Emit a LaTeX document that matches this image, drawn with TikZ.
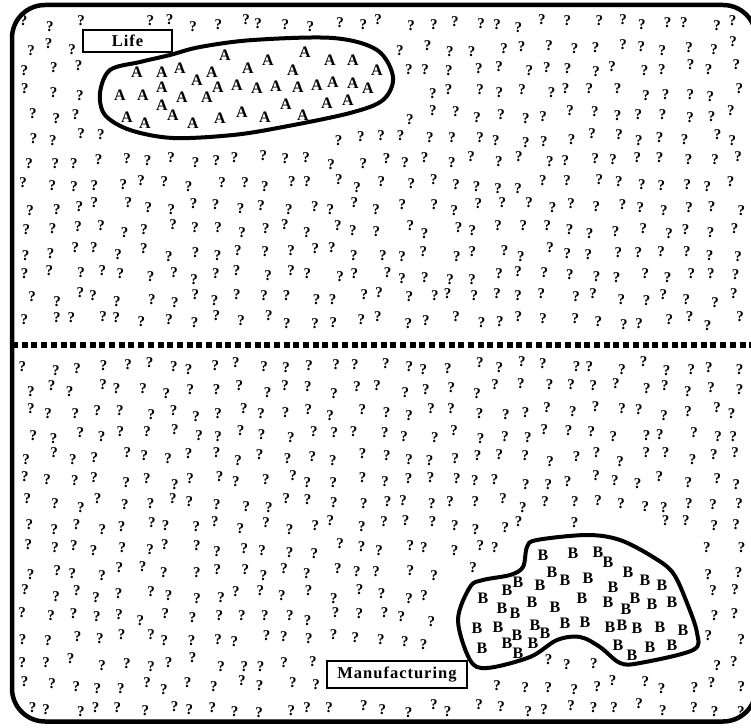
\documentclass[tikz,border=0pt]{standalone}
\usepackage{fontspec}
\setmainfont{Liberation Serif}
\begin{document}
\begin{tikzpicture}[
    x=1pt,
    y=-1pt,
    qmark/.style={font=\bfseries\fontsize{15}{15}\selectfont, inner sep=0pt},
    letter/.style={font=\bfseries\fontsize{16}{16}\selectfont, inner sep=0pt},
    tag/.style={draw, line width=2.5pt, inner sep=0pt,
      font=\bfseries\fontsize{16.5}{16.5}\selectfont\addfontfeature{LetterSpace=6}},
    border/.style={line width=4pt},
  ]
  \useasboundingbox (0,0) rectangle (751,727);
  % frame and divider
  \draw[line width=4.5pt, rounded corners=33pt] (12,5) rectangle (756,721.5);
  \coordinate (divL) at (12,345);
  \coordinate (divR) at (751,345);
  \draw[line width=6pt, dash pattern=on 6pt off 3.7pt] (divL) -- (divR);
  % labels
  \node[tag, minimum width=89pt, minimum height=22pt] (life) at (127.5,41) {Life};
  \node[tag, minimum width=140pt, minimum height=27pt] (manuf) at (397,674.5) {Manufacturing};
  % regions
  \draw[border] plot[smooth cycle, tension=0.55] coordinates {
    (100,93) (110,70) (140,62) (170,55) (200,47) (253,40) (333,38) (377,50)
    (393,77) (383,100) (350,113) (283,127) (233,135) (173,138) (130,130) (105,115)};
  \draw[border] plot[smooth cycle, tension=0.55] coordinates {
    (483,580) (510,575) (523,567) (527,547) (537,540) (587,535) (620,540) (653,557)
    (673,573) (687,603) (697,633) (693,650) (640,663) (620,663) (600,647) (580,637)
    (557,640) (530,657) (487,668) (470,660) (458,620) (470,587)};
  \foreach \p [count=\k] in {(225,55),(305,52),(268,60),(330,60),(353,60),(137,72),
      (162,72),(180,68),(212,72),(248,68),(293,70),(377,70),(197,80),(162,87),
      (218,87),(237,85),(257,88),(276,86),(298,87),(317,85),(333,82),(353,83),
      (368,88),(120,95),(143,95),(182,97),(207,97),(162,105),(286,104),(327,103),
      (348,100),(127,117),(145,123),(173,115),(193,123),(220,118),(242,112),
      (265,117),(303,115)}
    \node[letter] (a\k) at \p {A};
  \foreach \p [count=\k] in {(543,555),(573,553),(598,552),(608,562),(552,572),
      (565,580),(588,578),(628,572),(645,580),(662,585),(518,582),(507,590),
      (540,585),(613,587),(483,598),(532,602),(555,607),(582,598),(608,602),
      (635,598),(652,604),(672,602),(626,609),(502,608),(515,613),(477,628),
      (498,627),(535,625),(545,633),(565,623),(585,622),(610,627),(622,625),
      (637,628),(660,627),(683,630),(517,635),(507,643),(533,643),(482,648),
      (618,645),(632,655),(650,647),(672,645),(518,653)}
    \node[letter] (b\k) at \p {B};
  % scattered question marks
  \pgfmathsetseed{2718}
  \foreach \r in {0,...,30} {
    \foreach \c in {0,...,30} {
      \pgfmathsetmacro\qx{28+\c*23.6+6*rand}
      \pgfmathsetmacro\qy{24+\r*22.8+5*rand}
      \pgfmathtruncatemacro\qskip{(abs(\qx-246)/158)^3+(abs(\qy-88+0.06*(\qx-246))/58)^3<1
        || ((abs(\qx-578)/130)^4+(abs(\qy-601)/77)^4<1 && !(\qx<510 && \qy<570) && !(\qx>548 && \qx<605 && \qy>652))
        || (\qx>74 && \qx<181 && \qy>21 && \qy<61)
        || (\qx>318 && \qx<476 && \qy>652 && \qy<697)
        || abs(\qy-345)<10}
      \ifnum\qskip=0
        \node[qmark] (q\r-\c) at (\qx,\qy) {?};
      \fi
    }
  }
\end{tikzpicture}
\end{document}
